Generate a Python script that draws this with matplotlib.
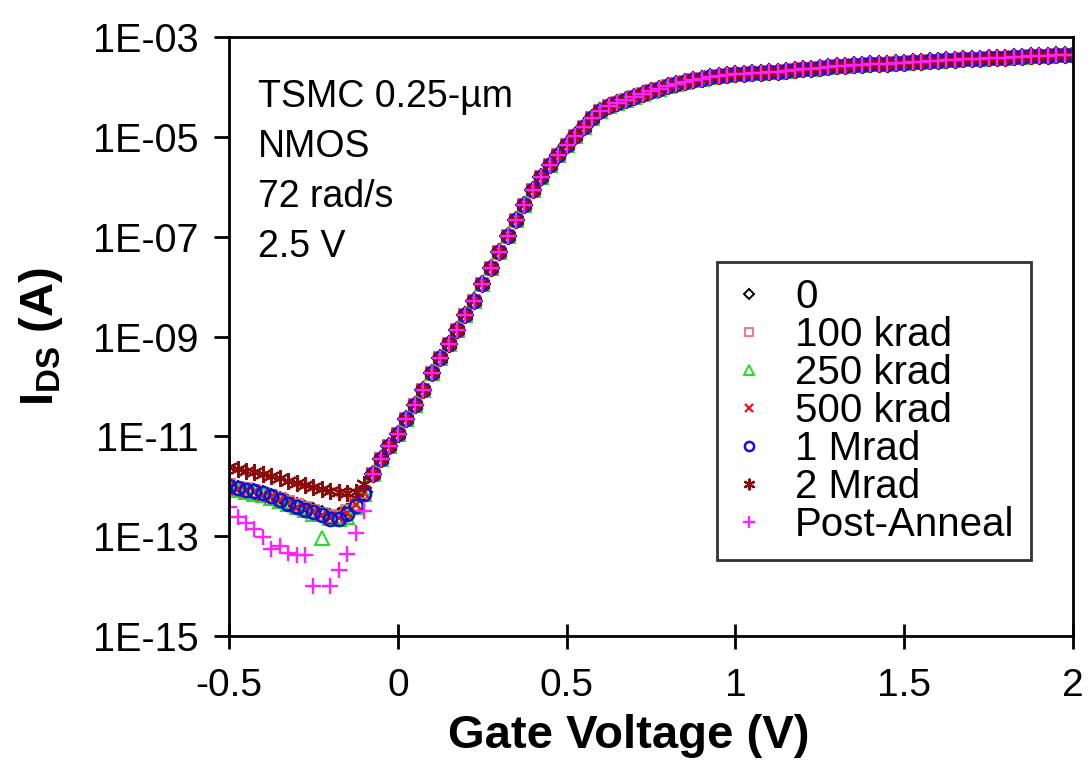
import numpy as np
import matplotlib
matplotlib.use("Agg")
import matplotlib.pyplot as plt

plt.rcParams['font.family'] = ['Liberation Sans', 'DejaVu Sans']
plt.rcParams['mathtext.fontset'] = 'custom'
plt.rcParams['mathtext.rm'] = 'Liberation Sans'
plt.rcParams['mathtext.bf'] = 'Liberation Sans:bold'

# gate voltage grid, -0.5 .. 2.0 V in 25 mV steps
vg = np.round(np.arange(-0.5, 2.0001, 0.025), 3)

# log10(I_DS) in the leakage floor, Vg = -0.500 .. -0.100 (17 points)
leak_0 = [-12.02, -12.05, -12.10, -12.12, -12.16, -12.22, -12.27, -12.33, -12.40,
          -12.45, -12.50, -12.56, -12.62, -12.60, -12.52, -12.38, -12.12]
leak_100k = [-11.98, -12.03, -12.06, -12.10, -12.15, -12.20, -12.25, -12.32, -12.38,
             -12.44, -12.50, -12.55, -12.60, -12.62, -12.50, -12.36, -12.12]
leak_250k = [-12.05, -12.08, -12.12, -12.15, -12.18, -12.24, -12.30, -12.36, -12.42,
             -12.48, -12.55, -13.04, -12.64, -12.66, -12.62, -12.42, -12.15]
leak_500k = [-12.03, -12.06, -12.09, -12.12, -12.17, -12.21, -12.27, -12.34, -12.41,
             -12.46, -12.52, -12.57, -12.63, -12.64, -12.54, -12.38, -12.13]
leak_1M = [-12.00, -12.04, -12.08, -12.10, -12.14, -12.20, -12.28, -12.35, -12.42,
           -12.47, -12.52, -12.58, -12.66, -12.66, -12.55, -12.40, -12.15]
leak_2M = [-11.62, -11.66, -11.70, -11.72, -11.76, -11.80, -11.84, -11.90, -11.94,
           -11.98, -12.02, -12.06, -12.10, -12.12, -12.14, -12.12, -11.95]
leak_anneal = [-12.42, -12.62, -12.74, -12.86, -13.02, -13.26, -13.20, -13.33, -13.37,
               -13.38, -14.00, np.nan, -14.00, -13.68, -13.36, -12.94, -12.50]

# log10(I_DS) shared by all doses, Vg = -0.075 .. 2.000 (84 points)
shared = [-11.75, -11.45, -11.20, -10.95, -10.66, -10.37, -10.07, -9.74, -9.43, -9.15,
          -8.87, -8.57, -8.28, -7.95, -7.63, -7.30, -6.98, -6.66, -6.36, -6.06,
          -5.80, -5.57, -5.36, -5.17, -4.98, -4.80, -4.62, -4.49, -4.39, -4.32,
          -4.26, -4.20, -4.14, -4.09, -4.04, -3.99, -3.95, -3.91, -3.87, -3.84,
          -3.81, -3.79, -3.77, -3.75, -3.74, -3.73, -3.72, -3.71, -3.70, -3.68,
          -3.67, -3.65, -3.64, -3.62, -3.60, -3.59, -3.58, -3.57, -3.56, -3.55,
          -3.55, -3.54, -3.53, -3.52, -3.51, -3.50, -3.49, -3.48, -3.47, -3.46,
          -3.45, -3.45, -3.44, -3.43, -3.43, -3.42, -3.41, -3.40, -3.39, -3.38,
          -3.38, -3.37, -3.37, -3.36]

labels = ["0", "100 krad", "250 krad", "500 krad", "1 Mrad", "2 Mrad", "Post-Anneal"]
leaks = [leak_0, leak_100k, leak_250k, leak_500k, leak_1M, leak_2M, leak_anneal]
styles = [
    dict(marker="D", color="black", mfc="none", ms=8, mew=1.4),
    dict(marker="s", color="#F07070", mfc="none", ms=9, mew=1.3),
    dict(marker="^", color="#22DD22", mfc="none", ms=10, mew=1.4),
    dict(marker="x", color="#EE1111", ms=9, mew=1.6),
    dict(marker="o", color="#1111DD", mfc="none", ms=9.5, mew=1.8),
    dict(marker=(6, 2, 0), color="#8B0A0A", ms=12, mew=1.6),
    dict(marker="+", color="#FF22FF", ms=12, mew=1.7),
]

fig = plt.figure(figsize=(10.91, 7.66), dpi=100)
ax = fig.add_axes([0.21, 0.1697, 0.7735, 0.782])

for lab, lk, st in zip(labels, leaks, styles):
    logi = np.array(list(lk) + shared, dtype=float)
    ax.plot(vg, 10.0 ** logi, linestyle="none", label=lab, **st)

ax.set_yscale("log")
ax.set_xlim(-0.5, 2.0)
ax.set_ylim(1e-15, 1e-3)
ax.set_yticks([1e-15, 1e-13, 1e-11, 1e-9, 1e-7, 1e-5, 1e-3])
ax.set_yticklabels(["1E-15", "1E-13", "1E-11", "1E-09", "1E-07", "1E-05", "1E-03"])
ax.yaxis.set_minor_locator(matplotlib.ticker.NullLocator())
ax.set_xticks([-0.5, 0, 0.5, 1, 1.5, 2])
ax.set_xticklabels(["-0.5", "0", "0.5", "1", "1.5", "2"])

for s in ax.spines.values():
    s.set_linewidth(2.0)
ax.tick_params(axis="x", direction="inout", length=18, width=2.0, labelsize=28, pad=14)
ax.tick_params(axis="y", direction="out", length=11, width=2.0, labelsize=28.5, pad=11)

ax.set_xlabel("Gate Voltage (V)", fontsize=34, fontweight="bold")
ax.xaxis.set_label_coords(0.473, -0.131)
ax.set_ylabel(r"I$_{\mathbf{DS}}$ (A)", fontsize=34, fontweight="bold")
ax.yaxis.set_label_coords(-0.195, 0.5)

ax.text(0.034, 0.93, "TSMC 0.25-\u00b5m\nNMOS\n72 rad/s\n2.5 V", transform=ax.transAxes,
        fontsize=27, va="top", ha="left", linespacing=1.5)

leg = ax.legend(loc="lower right", bbox_to_anchor=(0.95, 0.127), fontsize=29,
                frameon=True, fancybox=False, edgecolor="black", handlelength=0.8,
                handletextpad=0.75, labelspacing=0.0, borderpad=0.4, borderaxespad=0,
                markerscale=0.7)
leg.get_frame().set_linewidth(2.0)

fig.savefig("out.png", dpi=100)
